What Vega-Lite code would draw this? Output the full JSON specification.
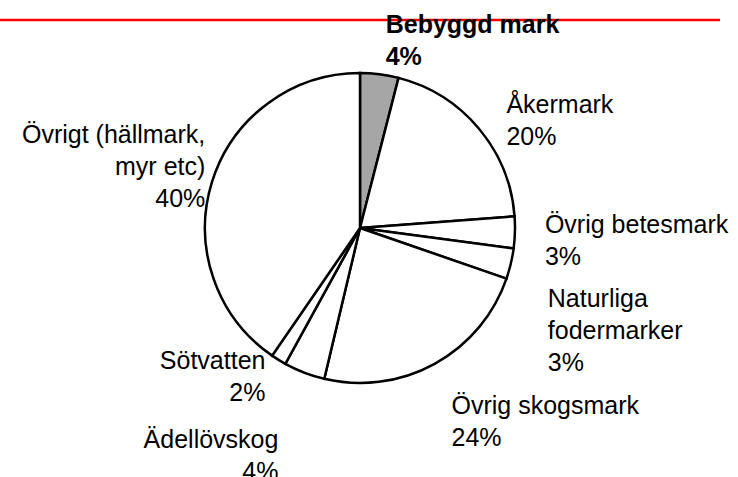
{
  "$schema": "https://vega.github.io/schema/vega-lite/v6.json",
  "autosize": {"type": "none"},
  "width": 720,
  "height": 416,
  "padding": {"left": 0, "top": 20, "right": 18, "bottom": 41},
  "background": "white",
  "view": {"stroke": null},
  "config": {"text": {"font": "Liberation Sans", "fontSize": 25, "lineHeight": 32, "lineBreak": "\n", "color": "black"}},
  "data": {"values": [
    {"nr": 1, "name": "Bebyggd mark", "value": 4.0, "label": "Bebyggd mark\n4%"},
    {"nr": 2, "name": "Åkermark", "value": 19.8, "label": "Åkermark\n20%"},
    {"nr": 3, "name": "Övrig betesmark", "value": 3.3, "label": "Övrig betesmark\n3%"},
    {"nr": 4, "name": "Naturliga fodermarker", "value": 3.2, "label": "Naturliga\nfodermarker\n3%"},
    {"nr": 5, "name": "Övrig skogsmark", "value": 23.4, "label": "Övrig skogsmark\n24%"},
    {"nr": 6, "name": "Ädellövskog", "value": 4.3, "label": "Ädellövskog\n4%"},
    {"nr": 7, "name": "Sötvatten", "value": 1.6, "label": "Sötvatten\n2%"},
    {"nr": 8, "name": "Övrigt", "value": 40.4, "label": "Övrigt (hällmark,\nmyr etc)\n40%"}
  ]},
  "transform": [
    {"window": [{"op": "sum", "field": "value", "as": "cum"}], "sort": [{"field": "nr"}], "frame": [null, 0]},
    {"calculate": "datum.cum - datum.value / 2", "as": "mid"}
  ],
  "layer": [
    {
      "transform": [{"filter": "datum.nr === 1"}],
      "mark": {"type": "rule", "color": "#ff0000", "strokeWidth": 2.5},
      "encoding": {"y": {"datum": 1, "type": "quantitative", "scale": {"domain": [0, 1]}, "axis": null}}
    },
    {
      "mark": {"type": "arc", "outerRadius": 155, "stroke": "black", "strokeWidth": 2.5, "strokeJoin": "miter"},
      "encoding": {
        "theta": {"field": "value", "type": "quantitative", "stack": true, "scale": {"domain": [0, 100]}},
        "order": {"field": "nr", "type": "quantitative"},
        "color": {"condition": {"test": "datum.name === 'Bebyggd mark'", "value": "#a6a6a6"}, "value": "white"}
      }
    },
    {
      "transform": [{"filter": "datum.nr === 1"}],
      "mark": {"type": "text", "radius": 205, "align": "left", "baseline": "middle", "fontWeight": "bold"},
      "encoding": {
        "theta": {"field": "mid", "type": "quantitative", "stack": null, "scale": {"domain": [0, 100]}},
        "text": {"field": "label"}
      }
    },
    {
      "transform": [{"filter": "datum.nr === 2"}],
      "mark": {"type": "text", "radius": 191, "align": "left", "baseline": "middle"},
      "encoding": {
        "theta": {"field": "mid", "type": "quantitative", "stack": null, "scale": {"domain": [0, 100]}},
        "text": {"field": "label"}
      }
    },
    {
      "transform": [{"filter": "datum.nr === 3"}],
      "mark": {"type": "text", "radius": 185, "align": "left", "baseline": "alphabetic"},
      "encoding": {
        "theta": {"field": "mid", "type": "quantitative", "stack": null, "scale": {"domain": [0, 100]}},
        "text": {"field": "label"}
      }
    },
    {
      "transform": [{"filter": "datum.nr === 4"}],
      "mark": {"type": "text", "radius": 193, "align": "left", "baseline": "top", "dy": 15},
      "encoding": {
        "theta": {"field": "mid", "type": "quantitative", "stack": null, "scale": {"domain": [0, 100]}},
        "text": {"field": "label"}
      }
    },
    {
      "transform": [{"filter": "datum.nr === 5"}],
      "mark": {"type": "text", "radius": 190, "align": "left", "baseline": "top"},
      "encoding": {
        "theta": {"field": "mid", "type": "quantitative", "stack": null, "scale": {"domain": [0, 100]}},
        "text": {"field": "label"}
      }
    },
    {
      "transform": [{"filter": "datum.nr === 6"}],
      "mark": {"type": "text", "radius": 227, "align": "right", "baseline": "middle"},
      "encoding": {
        "theta": {"field": "mid", "type": "quantitative", "stack": null, "scale": {"domain": [0, 100]}},
        "text": {"field": "label"}
      }
    },
    {
      "transform": [{"filter": "datum.nr === 7"}],
      "mark": {"type": "text", "radius": 180, "align": "right", "baseline": "middle", "dy": -20},
      "encoding": {
        "theta": {"field": "mid", "type": "quantitative", "stack": null, "scale": {"domain": [0, 100]}},
        "text": {"field": "label"}
      }
    },
    {
      "transform": [{"filter": "datum.nr === 8"}],
      "mark": {"type": "text", "radius": 162, "align": "right", "baseline": "middle", "dy": -45},
      "encoding": {
        "theta": {"field": "mid", "type": "quantitative", "stack": null, "scale": {"domain": [0, 100]}},
        "text": {"field": "label"}
      }
    }
  ]
}
